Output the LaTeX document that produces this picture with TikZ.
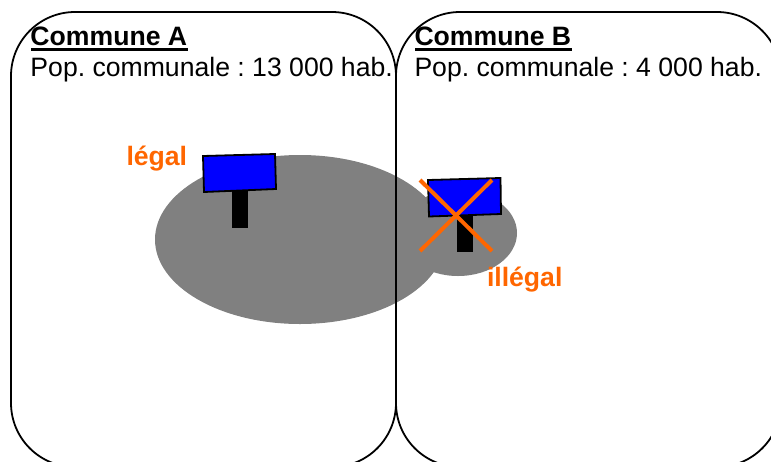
\documentclass[tikz,border=0pt]{standalone}
\usepackage{fontspec}
\setmainfont{Liberation Sans}
\definecolor{signorange}{HTML}{FF6600}
\frenchspacing
\usetikzlibrary{shapes.geometric}
\tikzset{
  commune/.style={draw=black,line width=1.8pt,rounded corners=64pt,minimum width=385pt,minimum height=455pt,inner sep=0pt,outer sep=0pt,anchor=north west},
  zone/.style={ellipse,fill=black!50,inner sep=0pt,outer sep=0pt},
  post/.style={fill=black,inner sep=0pt,outer sep=0pt,anchor=north west},
  panel/.style={fill=blue,draw=black,line width=1.8pt},
  cross/.style={draw=signorange,line width=4pt},
  label/.style={inner sep=0pt,outer sep=0pt,anchor=base west,font=\fontsize{26.6}{26.6}\selectfont},
  warn/.style={label,text=signorange,font=\fontsize{26.6}{26.6}\selectfont\bfseries}
}
\begin{document}
\begin{tikzpicture}[x=1pt,y=-1pt]
\useasboundingbox (0,0) rectangle (771,461);
\clip (0,0) rectangle (771,461);
\fill[white] (0,0) rectangle (771,461);
\node[zone,minimum width=290pt,minimum height=169pt] (big) at (300,239.5) {};
\node[zone,minimum width=118pt,minimum height=86pt] (small) at (458,233) {};
\node[commune] (ca) at (11,12) {};
\node[commune] (cb) at (396,12) {};
\node[post,minimum width=16pt,minimum height=38pt] (posta) at (232,190) {};
\draw[panel] (203,156) -- (275,154) -- (276,189) -- (204,192) -- cycle;
\node[post,minimum width=16pt,minimum height=38pt] (postb) at (457,214) {};
\draw[panel] (428,180) -- (500.5,178) -- (501,214) -- (429,216.5) -- cycle;
\coordinate (x1) at (420,180);
\coordinate (x2) at (492,251);
\coordinate (x3) at (492,180);
\coordinate (x4) at (420,251);
\draw[cross] (x1) -- (x2);
\draw[cross] (x3) -- (x4);
\node[label] (ta) at (30.5,45) {\textbf{Commune A}};
\draw[line width=2.5pt] (31,49.5) -- (188,49.5);
\node[label] (pa) at (30.5,76) {Pop. communale : 13 000 hab.};
\node[label] (tb) at (414.5,45) {\textbf{Commune B}};
\draw[line width=2.5pt] (415,49.5) -- (572,49.5);
\node[label] (pb) at (414.5,76) {Pop. communale : 4 000 hab.};
\node[warn] (leg) at (126.5,165) {légal};
\node[warn] (ill) at (487,286) {illégal};
\end{tikzpicture}
\end{document}
